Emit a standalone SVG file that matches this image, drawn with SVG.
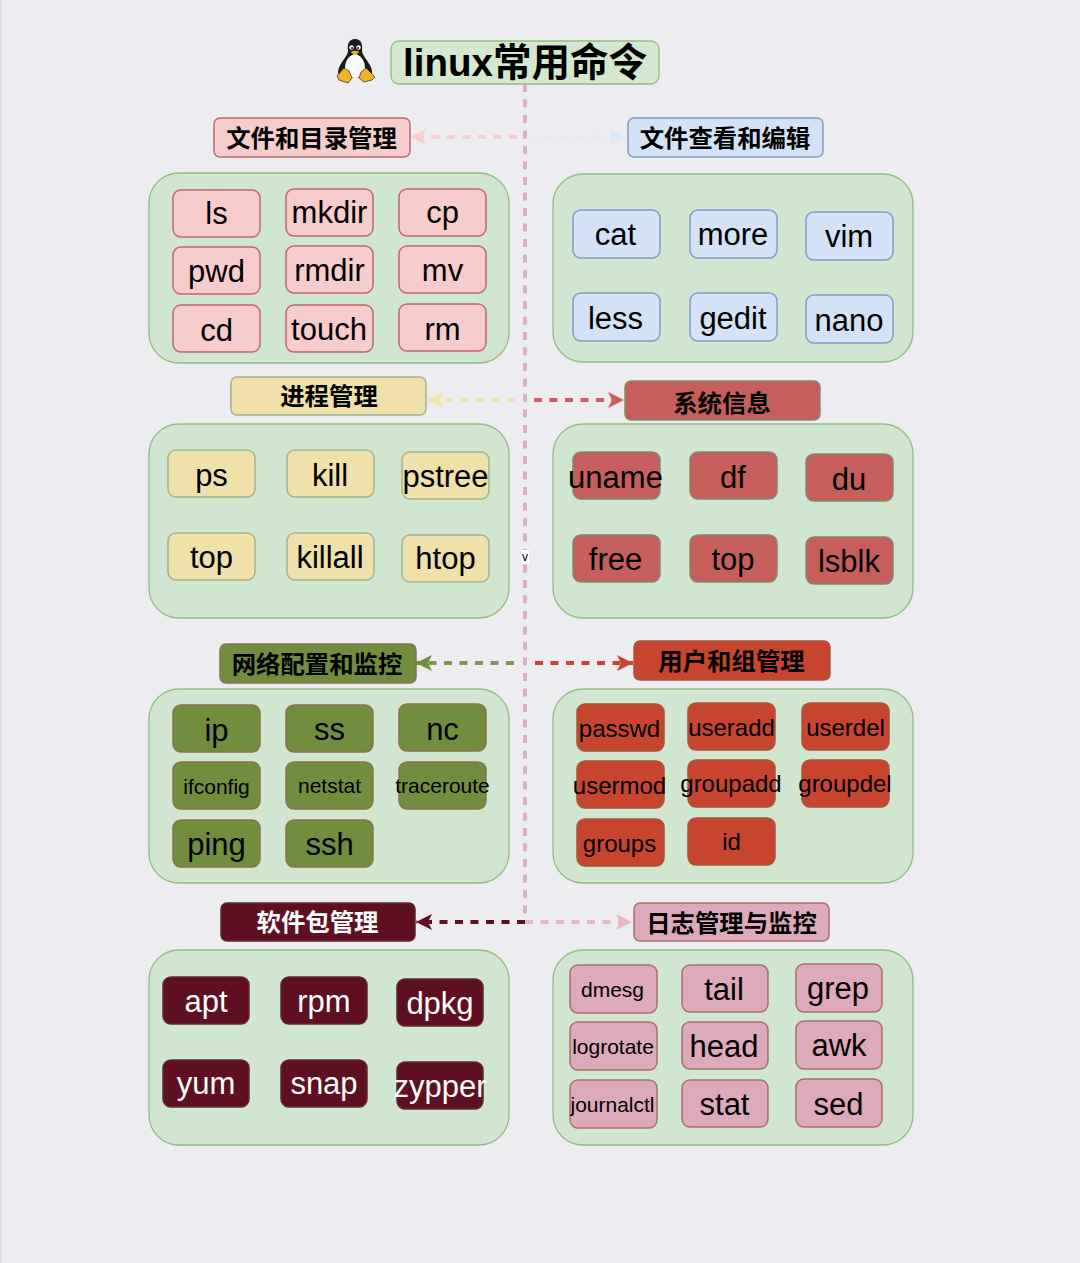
<svg xmlns="http://www.w3.org/2000/svg" width="1080" height="1263" viewBox="0 0 1080 1263">
<style>
text{font-family:"Liberation Sans","Noto Sans CJK SC",sans-serif;text-anchor:middle;fill:#000}
.n rect{stroke-width:1.5}
.n text{font-size:31px}
.m text{font-size:24px}
.s text{font-size:21px}
.h text{font-size:24.4px;font-weight:700;font-family:"Noto Sans CJK SC","Liberation Sans",sans-serif}
.panel{fill:#d0e6d0;stroke:#94bd83;stroke-width:1.3}
.pink rect{fill:#f6cccc;stroke:#bf6a6a}
.blue rect{fill:#d3e2f6;stroke:#7f9dc6}
.yel rect{fill:#f0e0a9;stroke:#a3b38e}
.red rect{fill:#c65f5c;stroke:#85896a}
.gre rect{fill:#718d3e;stroke:#8c7250}
.ora rect{fill:#c7452e;stroke:#a5573a}
.dar rect{fill:#5e1022;stroke:#5e2a30}
.dar text{fill:#fff}
.ros rect{fill:#dcaabb;stroke:#a8706a}
.c{fill:none;stroke-width:3.800;stroke-dasharray:8 7.500}
</style>
<defs>
<marker id="aPink" markerWidth="18" markerHeight="18" refX="16" refY="8" orient="auto" markerUnits="userSpaceOnUse"><path d="M0 0L16 8L0 16L4 8Z" fill="#f8cecc"/></marker>
<marker id="aBlue" markerWidth="18" markerHeight="18" refX="16" refY="8" orient="auto" markerUnits="userSpaceOnUse"><path d="M0 0L16 8L0 16L4 8Z" fill="#dae8fc"/></marker>
<marker id="aYel" markerWidth="18" markerHeight="18" refX="16" refY="8" orient="auto" markerUnits="userSpaceOnUse"><path d="M0 0L16 8L0 16L4 8Z" fill="#f3e4ad"/></marker>
<marker id="aRed" markerWidth="18" markerHeight="18" refX="16" refY="8" orient="auto" markerUnits="userSpaceOnUse"><path d="M0 0L16 8L0 16L4 8Z" fill="#c9615f"/></marker>
<marker id="aGre" markerWidth="18" markerHeight="18" refX="16" refY="8" orient="auto" markerUnits="userSpaceOnUse"><path d="M0 0L16 8L0 16L4 8Z" fill="#718d3e"/></marker>
<marker id="aOra" markerWidth="18" markerHeight="18" refX="16" refY="8" orient="auto" markerUnits="userSpaceOnUse"><path d="M0 0L16 8L0 16L4 8Z" fill="#c7452e"/></marker>
<marker id="aDar" markerWidth="18" markerHeight="18" refX="16" refY="8" orient="auto" markerUnits="userSpaceOnUse"><path d="M0 0L16 8L0 16L4 8Z" fill="#5e1022"/></marker>
<marker id="aRos" markerWidth="18" markerHeight="18" refX="16" refY="8" orient="auto" markerUnits="userSpaceOnUse"><path d="M0 0L16 8L0 16L4 8Z" fill="#e6b8c6"/></marker>
</defs>
<rect width="1080" height="1263" fill="#edecf1"/>
<rect width="2" height="1263" fill="#dcdcdf"/>

<g id="panels">
<rect class="panel" x="149" y="173" width="360" height="190" rx="30"/>
<rect class="panel" x="553" y="174" width="360" height="188" rx="30"/>
<rect class="panel" x="149" y="424" width="360" height="194" rx="30"/>
<rect class="panel" x="553" y="424" width="360" height="194" rx="30"/>
<rect class="panel" x="149" y="689" width="360" height="194" rx="30"/>
<rect class="panel" x="553" y="689" width="360" height="194" rx="30"/>
<rect class="panel" x="149" y="950" width="360" height="195" rx="30"/>
<rect class="panel" x="553" y="950" width="360" height="195" rx="30"/>
</g>

<g id="connectors">
<path class="c" d="M525 84V922" stroke="#d9adc2"/>
<path class="c" d="M517 137H410" stroke="#f8cecc" marker-end="url(#aPink)"/>
<path class="c" d="M532 137H625" stroke="#e2eaf8" marker-end="url(#aBlue)"/>
<path class="c" d="M515 400H428" stroke="#f3e4ad" marker-end="url(#aYel)"/>
<path class="c" d="M534 400H624" stroke="#c9615f" marker-end="url(#aRed)"/>
<path class="c" d="M514 663H416" stroke="#7c9a4c" marker-end="url(#aGre)"/>
<path class="c" d="M535 663H633" stroke="#c7452e" marker-end="url(#aOra)"/>
<path class="c" d="M525 922H416" stroke="#5e1022" marker-end="url(#aDar)"/>
<path class="c" d="M525 922H632" stroke="#e6b8c6" marker-end="url(#aRos)"/>
</g>

<g id="edge-label-v"><rect x="521" y="550" width="8" height="14" fill="#fff"/><text x="525" y="561" font-size="12">v</text></g>

<g id="penguin">
<path d="M355 39C349 39 347 44 348 51C348 56 339 63 338 72C338 76 342 78 346 78H364C369 78 373 76 372 71C371 63 362 56 362 51C363 44 361 39 355 39Z" fill="#1a1a1a"/>
<path d="M355 54C349 55 345 61 345 68C345 75 349 78 355 78C361 78 365 75 365 68C365 61 361 55 355 54Z" fill="#fbfbfb"/>
<circle cx="351.500" cy="47.500" r="2.300" fill="#eee"/>
<circle cx="358.500" cy="47.500" r="2.300" fill="#eee"/>
<circle cx="352" cy="48" r="1" fill="#111"/>
<circle cx="358" cy="48" r="1" fill="#111"/>
<path d="M350.500 52Q355 49.500 359.500 52L355 55Z" fill="#f0b429"/>
<path d="M344 68L337 76L339 80L348 83L352 78L349 71Z" fill="#f0b429" stroke="#4d3d10" stroke-width=".8"/>
<path d="M366 68L361 72L359 78L364 82L372 80L375 77Z" fill="#f0b429" stroke="#4d3d10" stroke-width=".8"/>
</g>

<g id="title"><rect x="391" y="41" width="268" height="43" rx="8" fill="#d3e8cf" stroke="#92bf7e" stroke-width="1.3"/><text x="525" y="76" font-size="38.500" font-weight="700">linux常用命令</text></g>

<g id="h-files" class="n h pink"><rect x="214" y="118" width="196" height="39" rx="6"/><text x="311.500" y="147">文件和目录管理</text></g>
<g id="h-view" class="n h blue"><rect x="628" y="118" width="195" height="39" rx="6"/><text x="725" y="147">文件查看和编辑</text></g>
<g id="h-proc" class="n h yel"><rect x="231" y="377" width="195" height="38" rx="6"/><text x="329" y="404.500">进程管理</text></g>
<g id="h-sys" class="n h red"><rect x="625" y="381" width="195" height="39" rx="6"/><text x="722" y="411.500">系统信息</text></g>
<g id="h-net" class="n h gre"><rect x="220" y="644" width="196" height="39" rx="6"/><text x="317" y="672.500">网络配置和监控</text></g>
<g id="h-user" class="n h ora"><rect x="634" y="641" width="196" height="39" rx="6"/><text x="731.500" y="669.500">用户和组管理</text></g>
<g id="h-pkg" class="n h dar"><rect x="221" y="903" width="194" height="38" rx="6"/><text x="317.500" y="930.500">软件包管理</text></g>
<g id="h-log" class="n h ros"><rect x="634" y="903" width="195" height="38" rx="6"/><text x="731.500" y="931.500">日志管理与监控</text></g>

<g id="n-ls" class="n pink"><rect x="173" y="190" width="87" height="47" rx="8"/><text x="216.500" y="224">ls</text></g>
<g id="n-mkdir" class="n pink"><rect x="286" y="189" width="87" height="47" rx="8"/><text x="329.500" y="223">mkdir</text></g>
<g id="n-cp" class="n pink"><rect x="399" y="189" width="87" height="47" rx="8"/><text x="442.500" y="223">cp</text></g>
<g id="n-pwd" class="n pink"><rect x="173" y="247" width="87" height="47" rx="8"/><text x="216.500" y="282">pwd</text></g>
<g id="n-rmdir" class="n pink"><rect x="286" y="246" width="87" height="47" rx="8"/><text x="329.500" y="280.500">rmdir</text></g>
<g id="n-mv" class="n pink"><rect x="399" y="246" width="87" height="47" rx="8"/><text x="442.500" y="280.500">mv</text></g>
<g id="n-cd" class="n pink"><rect x="173" y="305" width="87" height="47" rx="8"/><text x="216.500" y="341">cd</text></g>
<g id="n-touch" class="n pink"><rect x="286" y="305" width="87" height="47" rx="8"/><text x="329" y="340">touch</text></g>
<g id="n-rm" class="n pink"><rect x="399" y="304" width="87" height="47" rx="8"/><text x="442.500" y="340">rm</text></g>

<g id="n-cat" class="n blue"><rect x="573" y="210" width="87" height="48" rx="8"/><text x="615.500" y="245">cat</text></g>
<g id="n-more" class="n blue"><rect x="690" y="210" width="87" height="48" rx="8"/><text x="733" y="245">more</text></g>
<g id="n-vim" class="n blue"><rect x="806" y="212" width="87" height="48" rx="8"/><text x="849" y="247">vim</text></g>
<g id="n-less" class="n blue"><rect x="573" y="293" width="87" height="48" rx="8"/><text x="615.500" y="329">less</text></g>
<g id="n-gedit" class="n blue"><rect x="690" y="293" width="87" height="48" rx="8"/><text x="733" y="329">gedit</text></g>
<g id="n-nano" class="n blue"><rect x="806" y="295" width="87" height="48" rx="8"/><text x="849" y="331">nano</text></g>

<g id="n-ps" class="n yel"><rect x="168" y="450" width="87" height="47" rx="8"/><text x="211.500" y="486">ps</text></g>
<g id="n-kill" class="n yel"><rect x="287" y="450" width="87" height="47" rx="8"/><text x="330" y="486">kill</text></g>
<g id="n-pstree" class="n yel"><rect x="402" y="452" width="87" height="47" rx="8"/><text x="445.500" y="487">pstree</text></g>
<g id="n-top1" class="n yel"><rect x="168" y="533" width="87" height="47" rx="8"/><text x="211.500" y="568">top</text></g>
<g id="n-killall" class="n yel"><rect x="287" y="533" width="87" height="47" rx="8"/><text x="330" y="568">killall</text></g>
<g id="n-htop" class="n yel"><rect x="402" y="535" width="87" height="47" rx="8"/><text x="445.500" y="569">htop</text></g>

<g id="n-uname" class="n red"><rect x="573" y="452" width="87" height="47" rx="8"/><text x="615.500" y="488">uname</text></g>
<g id="n-df" class="n red"><rect x="690" y="452" width="87" height="47" rx="8"/><text x="733" y="488">df</text></g>
<g id="n-du" class="n red"><rect x="806" y="454" width="87" height="47" rx="8"/><text x="849" y="490">du</text></g>
<g id="n-free" class="n red"><rect x="573" y="535" width="87" height="47" rx="8"/><text x="615.500" y="570">free</text></g>
<g id="n-top2" class="n red"><rect x="690" y="535" width="87" height="47" rx="8"/><text x="733" y="570">top</text></g>
<g id="n-lsblk" class="n red"><rect x="806" y="537" width="87" height="47" rx="8"/><text x="849" y="572">lsblk</text></g>

<g id="n-ip" class="n gre"><rect x="173" y="705" width="87" height="47" rx="8"/><text x="216.500" y="741">ip</text></g>
<g id="n-ss" class="n gre"><rect x="286" y="705" width="87" height="47" rx="8"/><text x="329.500" y="740">ss</text></g>
<g id="n-nc" class="n gre"><rect x="399" y="704" width="87" height="47" rx="8"/><text x="442.500" y="740">nc</text></g>
<g id="n-ifconfig" class="n s gre"><rect x="173" y="762" width="87" height="47" rx="8"/><text x="216.500" y="794">ifconfig</text></g>
<g id="n-netstat" class="n s gre"><rect x="286" y="762" width="87" height="47" rx="8"/><text x="329.500" y="793">netstat</text></g>
<g id="n-traceroute" class="n s gre"><rect x="399" y="762" width="87" height="47" rx="8"/><text x="442.500" y="793">traceroute</text></g>
<g id="n-ping" class="n gre"><rect x="173" y="820" width="87" height="47" rx="8"/><text x="216.500" y="855">ping</text></g>
<g id="n-ssh" class="n gre"><rect x="286" y="820" width="87" height="47" rx="8"/><text x="329.500" y="855">ssh</text></g>

<g id="n-passwd" class="n m ora"><rect x="577" y="704" width="87" height="47" rx="8"/><text x="619.500" y="737">passwd</text></g>
<g id="n-useradd" class="n m ora"><rect x="688" y="703" width="87" height="47" rx="8"/><text x="731.500" y="736">useradd</text></g>
<g id="n-userdel" class="n m ora"><rect x="802" y="703" width="87" height="47" rx="8"/><text x="845.500" y="736">userdel</text></g>
<g id="n-usermod" class="n m ora"><rect x="577" y="761" width="87" height="47" rx="8"/><text x="619.500" y="794">usermod</text></g>
<g id="n-groupadd" class="n m ora"><rect x="688" y="760" width="87" height="47" rx="8"/><text x="731" y="792">groupadd</text></g>
<g id="n-groupdel" class="n m ora"><rect x="802" y="760" width="87" height="47" rx="8"/><text x="845" y="792">groupdel</text></g>
<g id="n-groups" class="n m ora"><rect x="577" y="819" width="87" height="47" rx="8"/><text x="619.500" y="852">groups</text></g>
<g id="n-id" class="n m ora"><rect x="688" y="818" width="87" height="47" rx="8"/><text x="731.500" y="850">id</text></g>

<g id="n-apt" class="n dar"><rect x="163" y="977" width="86" height="47" rx="8"/><text x="206" y="1012">apt</text></g>
<g id="n-rpm" class="n dar"><rect x="281" y="977" width="86" height="47" rx="8"/><text x="324" y="1012">rpm</text></g>
<g id="n-dpkg" class="n dar"><rect x="397" y="979" width="86" height="47" rx="8"/><text x="440" y="1014">dpkg</text></g>
<g id="n-yum" class="n dar"><rect x="163" y="1060" width="86" height="47" rx="8"/><text x="206" y="1094">yum</text></g>
<g id="n-snap" class="n dar"><rect x="281" y="1060" width="86" height="47" rx="8"/><text x="324" y="1094">snap</text></g>
<g id="n-zypper" class="n dar"><rect x="397" y="1062" width="86" height="47" rx="8"/><text x="440" y="1097">zypper</text></g>

<g id="n-dmesg" class="n s ros"><rect x="570" y="965" width="87" height="48" rx="8"/><text x="612.500" y="997">dmesg</text></g>
<g id="n-tail" class="n ros"><rect x="682" y="965" width="86" height="47" rx="8"/><text x="724" y="1000">tail</text></g>
<g id="n-grep" class="n ros"><rect x="796" y="964" width="86" height="48" rx="8"/><text x="838" y="999">grep</text></g>
<g id="n-logrotate" class="n s ros"><rect x="570" y="1022" width="87" height="48" rx="8"/><text x="613" y="1054">logrotate</text></g>
<g id="n-head" class="n ros"><rect x="682" y="1022" width="86" height="47" rx="8"/><text x="724" y="1057">head</text></g>
<g id="n-awk" class="n ros"><rect x="796" y="1021" width="86" height="48" rx="8"/><text x="839" y="1056">awk</text></g>
<g id="n-journalctl" class="n s ros"><rect x="570" y="1080" width="87" height="48" rx="8"/><text x="612.500" y="1112">journalctl</text></g>
<g id="n-stat" class="n ros"><rect x="682" y="1080" width="86" height="47" rx="8"/><text x="724.500" y="1115">stat</text></g>
<g id="n-sed" class="n ros"><rect x="796" y="1079" width="86" height="48" rx="8"/><text x="838.500" y="1115">sed</text></g>
</svg>
